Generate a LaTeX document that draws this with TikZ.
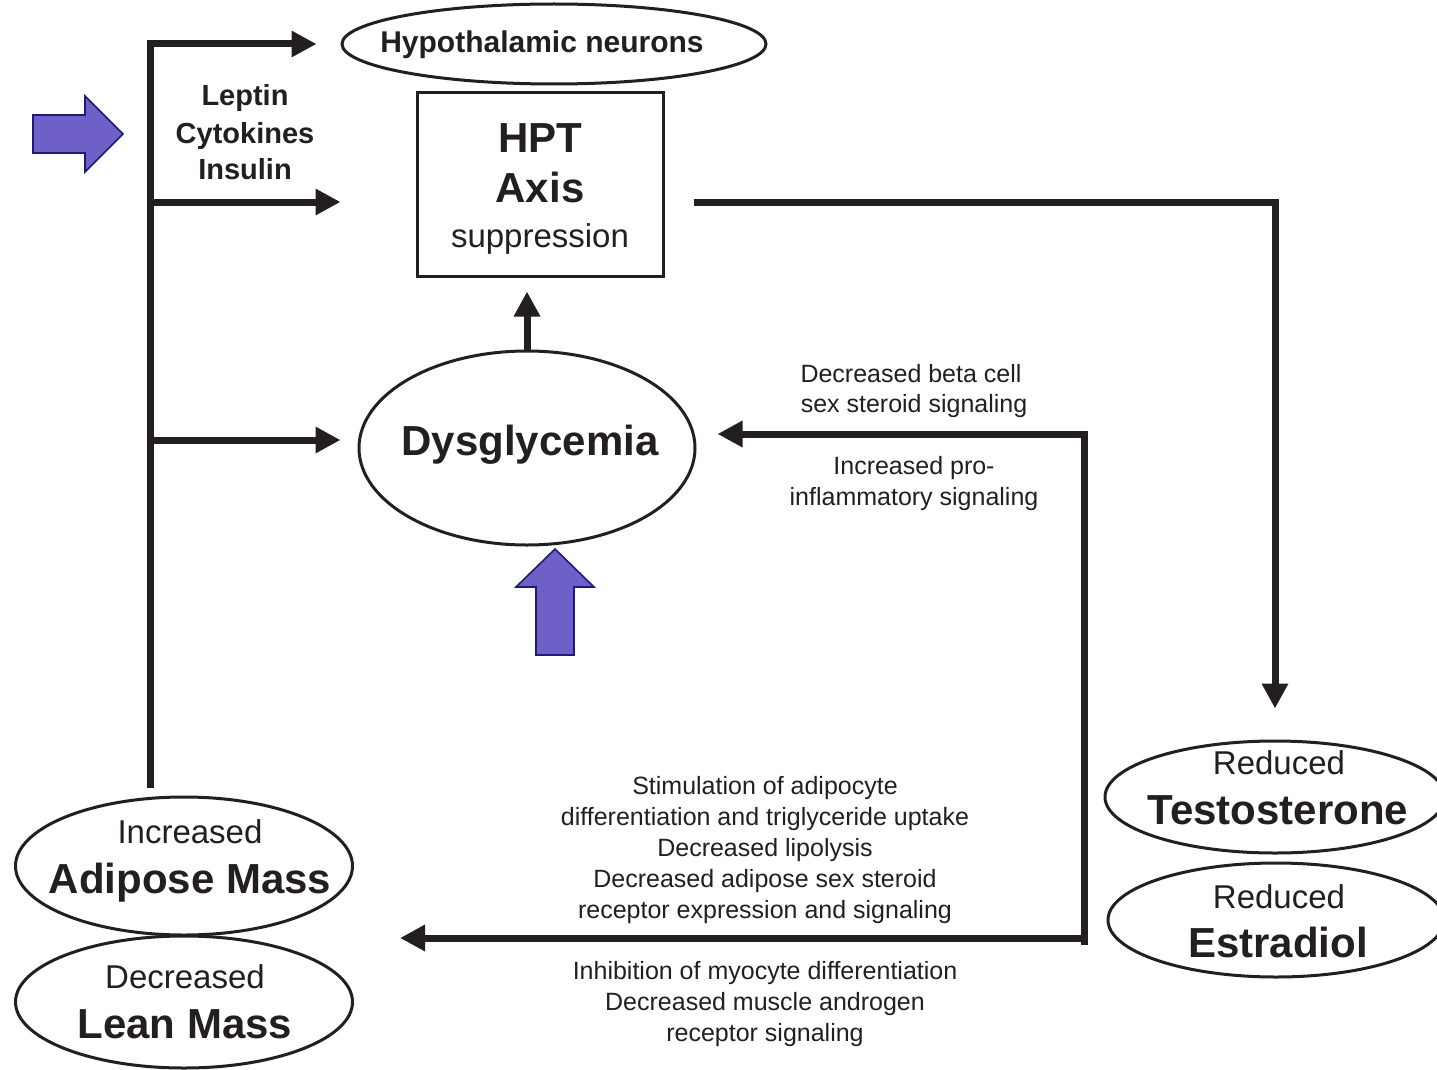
\documentclass[tikz,border=0pt]{standalone}
\usepackage{fontspec}
\setmainfont{Liberation Sans}
\usetikzlibrary{arrows.meta,shapes.geometric}
\definecolor{ink}{HTML}{231F20}
\definecolor{fillpurple}{HTML}{6F60C8}
\definecolor{edgenavy}{HTML}{1C1C78}
\begin{document}
\begin{tikzpicture}[x=1pt,y=-1pt,
  thickline/.style={line width=7pt, draw=ink},
  flow/.style={thickline, -{Triangle[length=25pt,width=25pt]}},
  oval/.style={ellipse, draw=ink, line width=3pt, inner sep=0pt, fill=white},
  bigarrow/.style={fill=fillpurple, draw=edgenavy, line width=1.6pt, line join=miter},
  small/.style={anchor=base, text=ink, font=\fontsize{25}{31}\selectfont},
  boldmid/.style={anchor=base, text=ink, font=\fontsize{29}{36}\selectfont\bfseries},
  regbig/.style={anchor=base, text=ink, font=\fontsize{33}{40}\selectfont},
  boldbig/.style={anchor=base, text=ink, font=\fontsize{42}{50}\selectfont\bfseries}]

\useasboundingbox (0,0) rectangle (1437,1070);
\fill[white] (0,0) rectangle (1437,1070);
\clip (0,0) rectangle (1437,1070);

% ---- shapes ----
\node[oval, minimum width=424pt, minimum height=80pt] (hyp) at (554,44) {};
\node[draw=ink, line width=3pt, minimum width=246pt, minimum height=183pt, inner sep=0pt] (hpt) at (540,184.5) {};
\node[oval, minimum width=336pt, minimum height=194pt] (dys) at (527,448) {};
\node[oval, minimum width=340pt, minimum height=112pt] (testo) at (1275,797) {};
\node[oval, minimum width=336pt, minimum height=114pt] (estra) at (1276,920) {};
\node[oval, minimum width=337pt, minimum height=138pt] (adip) at (184,866) {};
\node[oval, minimum width=337pt, minimum height=132pt] (lean) at (184,1002) {};

% ---- texts inside shapes ----
\node[boldmid, font=\fontsize{30}{36}\selectfont\bfseries] (hyptxt) at (542,53) {Hypothalamic neurons};
\node[boldbig] (hpt1) at (540,153) {HPT};
\node[boldbig] (hpt2) at (540,202) {Axis};
\node[regbig] (hpt3) at (540,247) {suppression};
\node[boldbig] (dystxt) at (530,455) {Dysglycemia};
\node[regbig] (testo1) at (1279,774) {Reduced};
\node[boldbig] (testo2) at (1278,824) {Testosterone};
\node[regbig] (estra1) at (1279,908) {Reduced};
\node[boldbig] (estra2) at (1278,957) {Estradiol};
\node[regbig] (adip1) at (190,843) {Increased};
\node[boldbig] (adip2) at (190,893) {Adipose Mass};
\node[regbig] (lean1) at (185,988) {Decreased};
\node[boldbig] (lean2) at (185,1038) {Lean Mass};

% ---- signal labels ----
\node[boldmid] (lep1) at (245,106) {Leptin};
\node[boldmid] (lep2) at (245,143) {Cytokines};
\node[boldmid] (lep3) at (245,179) {Insulin};

\node[small] (beta1) at (911,382) {Decreased beta cell};
\node[small] (beta2) at (914,412) {sex steroid signaling};
\node[small] (infl1) at (914,474) {Increased pro-};
\node[small] (infl2) at (914,505) {inflammatory signaling};

\foreach \t [count=\i] in {Stimulation of adipocyte, differentiation and triglyceride uptake,
  Decreased lipolysis, Decreased adipose sex steroid, receptor expression and signaling}
  \node[small] (adl\i) at (765,{794+31*(\i-1)}) {\t};
\foreach \t [count=\i] in {Inhibition of myocyte differentiation, Decreased muscle androgen,
  receptor signaling}
  \node[small] (msl\i) at (765,{979+31*(\i-1)}) {\t};

% ---- connectors ----
\coordinate (trunk) at (150,788);
\coordinate (b2) at (146.5,202);
\coordinate (b3) at (146.5,440);
\draw[flow, shorten >=24pt] (trunk) |- (hyp.west);
\draw[flow, shorten >=75pt] (b2) -- (b2 -| hpt.west);
\draw[flow, shorten >=17pt] (b3) -- (b3 -| dys.west);

\draw[flow, shorten >=14pt] (dys.north) -- (dys.north |- hpt.south);

\coordinate (hout) at (694,202);
\draw[flow, shorten >=31pt] (hout) -| (testo.north);

\coordinate (fb) at (1084,945);
\coordinate (ft) at (1084,434);
\coordinate (fm) at (1087.5,938);
\draw[flow, shorten >=21pt] (fb) -- (ft) -- (ft -| dys.east);
\draw[flow, shorten >=46pt] (fm) -- (fm -| adip.east);

% ---- highlight arrows ----
\draw[bigarrow] (33,115) -- (85,115) -- (85,96) -- (123,134) -- (85,172) -- (85,153) -- (33,153) -- cycle;
\draw[bigarrow] (536,655) -- (536,587) -- (516,587) -- (555,549) -- (594,587) -- (574,587) -- (574,655) -- cycle;

\end{tikzpicture}
\end{document}
